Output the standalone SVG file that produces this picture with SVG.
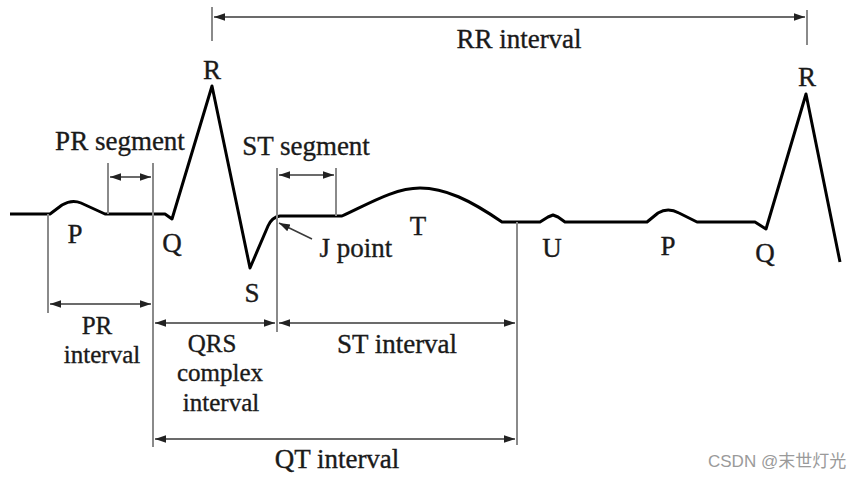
<svg xmlns="http://www.w3.org/2000/svg" width="860" height="478" viewBox="0 0 860 478">
<style>
.lbl{font-family:"Liberation Serif","Times New Roman",serif;font-size:27px;fill:#1a1a1a;stroke:#1a1a1a;stroke-width:0.35;text-anchor:middle}
.sm{font-size:25px}
.guide{stroke:#8a8a8a;stroke-width:2;fill:none}
.arr{stroke:#3a3a3a;stroke-width:1.6;fill:none;marker-start:url(#ah);marker-end:url(#ah)}
.wave{stroke:#000;stroke-width:3;fill:none;stroke-linejoin:round}
.wm{font-family:"Liberation Sans","Noto Sans CJK SC",sans-serif;font-size:17px;fill:#9a9a9a}
</style>
<defs>
<marker id="ah" markerUnits="userSpaceOnUse" markerWidth="12" markerHeight="10" viewBox="0 0 12 10" refX="11" refY="5" orient="auto-start-reverse">
<path d="M0,1.2 L11,5 L0,8.8 Z" fill="#222"/>
</marker>
</defs>
<rect width="860" height="478" fill="#fff"/>
<g id="waveform">
<path class="wave" d="M10,214 L50,214 L62,205 Q72,199 81,203 L105,214 L165,214 L172,219 L212,86 L250,268 L268,226 Q272,217 280,216 L342,216 C370,203 395,188 420,188 C445,188 470,200 502,222 L540,222 L548,217 L553,215 L558,217 L565,222 L647,222 L658,213 Q668,207 679,213 L697,222 L755,222 L766,229 L806,94 L840,262"/>
</g>
<g id="connectors">
<line class="guide" x1="48" y1="214" x2="48" y2="313"/>
<line class="guide" x1="153" y1="163" x2="153" y2="447"/>
<line class="guide" x1="108" y1="163" x2="108" y2="214"/>
<line class="guide" x1="277" y1="168" x2="277" y2="332"/>
<line class="guide" x1="336" y1="168" x2="336" y2="216"/>
<line class="guide" x1="212" y1="7" x2="212" y2="41"/>
<line class="guide" x1="807" y1="10" x2="807" y2="45"/>
<line class="guide" x1="517" y1="222" x2="517" y2="445"/>
<line class="arr" x1="214" y1="17" x2="805" y2="17"/>
<line class="arr" x1="110" y1="177" x2="151" y2="177"/>
<line class="arr" x1="279" y1="175" x2="334" y2="175"/>
<line class="arr" x1="50" y1="304" x2="151" y2="304"/>
<line class="arr" x1="155" y1="323" x2="275" y2="323"/>
<line class="arr" x1="279" y1="323" x2="515" y2="323"/>
<line class="arr" x1="155" y1="439" x2="515" y2="439"/>
<line x1="312" y1="239" x2="279" y2="223" stroke="#3a3a3a" stroke-width="1.4" marker-end="url(#ah)"/>
</g>
<g id="labels">
<text class="lbl" x="519" y="48">RR interval</text>
<text class="lbl" x="212" y="79">R</text>
<text class="lbl" x="807" y="86">R</text>
<text class="lbl" x="120" y="150">PR segment</text>
<text class="lbl" x="306" y="155">ST segment</text>
<text class="lbl" x="75" y="243">P</text>
<text class="lbl" x="172" y="252">Q</text>
<text class="lbl" x="252" y="302">S</text>
<text class="lbl" x="356" y="257">J point</text>
<text class="lbl" x="418" y="235">T</text>
<text class="lbl" x="552" y="257">U</text>
<text class="lbl" x="668" y="255">P</text>
<text class="lbl" x="765" y="262">Q</text>
<text class="lbl sm" x="97" y="334">PR</text>
<text class="lbl sm" x="102" y="363">interval</text>
<text class="lbl sm" x="212" y="352">QRS</text>
<text class="lbl sm" x="220" y="381">complex</text>
<text class="lbl sm" x="221" y="411">interval</text>
<text class="lbl" x="397" y="353">ST interval</text>
<text class="lbl" x="337" y="468">QT interval</text>
<text class="wm" x="708" y="467">CSDN @末世灯光</text>
</g>
</svg>
